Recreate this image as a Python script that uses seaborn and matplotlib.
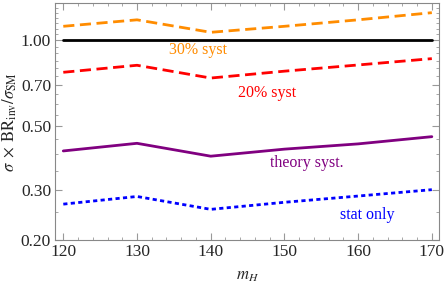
import matplotlib
matplotlib.use('Agg')
import matplotlib.pyplot as plt
import matplotlib.ticker as mticker
import seaborn as sns
import pandas as pd

sns.set_style('ticks')
plt.rcParams['font.family'] = ['Liberation Serif', 'DejaVu Serif']
plt.rcParams['mathtext.fontset'] = 'stix'

m_h = [120, 130, 140, 150, 160, 170]
syst30 = [1.12, 1.18, 1.067, 1.12, 1.18, 1.25]
syst20 = [0.773, 0.818, 0.738, 0.78, 0.82, 0.863]
theory = [0.41, 0.436, 0.393, 0.416, 0.434, 0.46]
stat_only = [0.267, 0.284, 0.256, 0.271, 0.285, 0.30]
sm_line = [1.0, 1.0, 1.0, 1.0, 1.0, 1.0]

y_ticks = [0.2, 0.3, 0.5, 0.7, 1.0]
y_labels = ['0.20', '0.30', '0.50', '0.70', '1.00']

df = pd.DataFrame({'m_H': m_h, '30': syst30, '20': syst20,
                   'theory': theory, 'stat': stat_only, 'sm': sm_line})

fig = plt.figure(figsize=(4.45, 2.85), dpi=100)
ax = fig.add_axes([0.124, 0.158, 0.863, 0.831])

sns.lineplot(data=df, x='m_H', y='sm', ax=ax, color='black', lw=2)
sns.lineplot(data=df, x='m_H', y='30', ax=ax, color='#ff8c00', lw=2)
ax.lines[-1].set_dashes([4, 2])
sns.lineplot(data=df, x='m_H', y='20', ax=ax, color='#ff0000', lw=2)
ax.lines[-1].set_dashes([4, 2])
sns.lineplot(data=df, x='m_H', y='theory', ax=ax, color='#800080', lw=2)
sns.lineplot(data=df, x='m_H', y='stat', ax=ax, color='#0000ff', lw=2)
ax.lines[-1].set_dashes([1.5, 1.2])

fs = 11.5
ax.text(138.3, 0.925, '30% syst', color='#ff8c00', fontsize=fs, ha='center', va='center')
ax.text(147.6, 0.654, '20% syst', color='#ff0000', fontsize=fs, ha='center', va='center')
ax.text(153.0, 0.371, 'theory syst.', color='#800080', fontsize=fs, ha='center', va='center')
ax.text(161.3, 0.245, 'stat only', color='#0000ff', fontsize=fs, ha='center', va='center')

ax.set_yscale('log')
ax.set_ylim(0.2, 1.35)
ax.set_xlim(118.9, 171.0)
ax.set_yticks(y_ticks)
ax.set_yticklabels(y_labels)
ax.yaxis.set_minor_locator(mticker.FixedLocator(
    [0.25, 0.35, 0.4, 0.45, 0.55, 0.6, 0.65, 0.75, 0.8, 0.85, 0.9, 0.95, 1.05, 1.1, 1.15, 1.2, 1.25, 1.3]))
ax.yaxis.set_minor_formatter(mticker.NullFormatter())
ax.set_xticks([120, 130, 140, 150, 160, 170])
ax.xaxis.set_minor_locator(mticker.MultipleLocator(2))

ax.tick_params(which='both', direction='in', top=True, right=True, color='#999999',
               labelsize=12.5, pad=3)
ax.tick_params(which='major', length=5, width=0.8)
ax.tick_params(which='minor', length=2.5, width=0.6)
for s in ax.spines.values():
    s.set_color('#888888')
    s.set_linewidth(0.8)

ax.set_xlabel('$m_H$', fontsize=12, labelpad=6)
ax.set_ylabel(r'$\sigma\;\times\;\mathrm{BR}_{\mathrm{inv}}/\sigma_{\mathrm{SM}}$', fontsize=12, labelpad=1)

fig.savefig('out.png', dpi=100)
